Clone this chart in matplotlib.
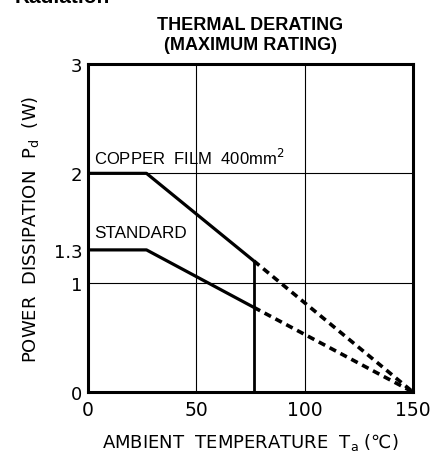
import matplotlib
matplotlib.use('Agg')
import matplotlib.pyplot as plt

plt.rcParams['font.family'] = ['Liberation Sans', 'DejaVu Sans']
plt.rcParams['mathtext.fontset'] = 'dejavusans'

# derating curves (Ta in degC, Pd in W)
copper_x = [0, 27, 76.5]
copper_y = [2.0, 2.0, 1.2]
standard_x = [0, 27, 76.5]
standard_y = [1.3, 1.3, 0.775]
copper_dash_x = [76.5, 150]
copper_dash_y = [1.2, 0.0]
standard_dash_x = [76.5, 150]
standard_dash_y = [0.775, 0.0]

xticks = [0, 50, 100, 150]
yticks = [0, 1, 1.3, 2, 3]
ytick_labels = ['0', '1', '1.3', '2', '3']

fig = plt.figure(figsize=(4.32, 4.56), dpi=100)
ax = fig.add_axes([0.2037, 0.138, 0.7523, 0.7195])

# grid lines
for gx in [50, 100]:
    ax.axvline(gx, color='black', lw=0.8, zorder=1)
for gy in [1, 2]:
    ax.axhline(gy, color='black', lw=0.8, zorder=1)

ax.plot(copper_x, copper_y, color='black', lw=2.3, solid_capstyle='butt', zorder=3)
ax.plot(standard_x, standard_y, color='black', lw=2.3, solid_capstyle='butt', zorder=3)
ax.plot([copper_x[-1], copper_x[-1]], [0, copper_y[-1]], color='black', lw=2.0, zorder=3)
ax.plot(copper_dash_x, copper_dash_y, color='black', lw=2.6, linestyle=(0, (2.0, 1.4)), zorder=3)
ax.plot(standard_dash_x, standard_dash_y, color='black', lw=2.6, linestyle=(0, (2.0, 1.4)), zorder=3)

ax.text(3, 2.15, 'COPPER  FILM  400mm$^{2}$', fontsize=12, va='center', ha='left')
ax.text(3, 1.46, 'STANDARD', fontsize=12.3, va='center', ha='left')

ax.set_xlim(0, 150)
ax.set_ylim(0, 3)
ax.set_xticks(xticks)
ax.set_xticklabels([str(t) for t in xticks], fontsize=13.5, family='DejaVu Sans')
ax.set_yticks(yticks)
ax.set_yticklabels(ytick_labels, fontsize=13, family='DejaVu Sans')
ax.tick_params(axis='x', length=0, pad=6)
ax.tick_params(axis='y', length=0, pad=4)
for s in ax.spines.values():
    s.set_linewidth(2.2)

ax.set_xlabel('AMBIENT  TEMPERATURE  T$_{\\rm a}$ (\u2103)', fontsize=13, labelpad=8,
              family='DejaVu Sans')
ax.set_ylabel('POWER  DISSIPATION  P$_{\\rm d}$  (W)', fontsize=13, labelpad=9,
              family='DejaVu Sans')

ax.set_title('THERMAL DERATING\n(MAXIMUM RATING)', fontsize=13, fontweight='bold', pad=11,
             linespacing=1.2)

fig.text(0.035, 1 - 3 / 456, 'Radiation', fontsize=15, fontweight='bold', va='baseline', ha='left')

fig.savefig('out.png', dpi=100)
